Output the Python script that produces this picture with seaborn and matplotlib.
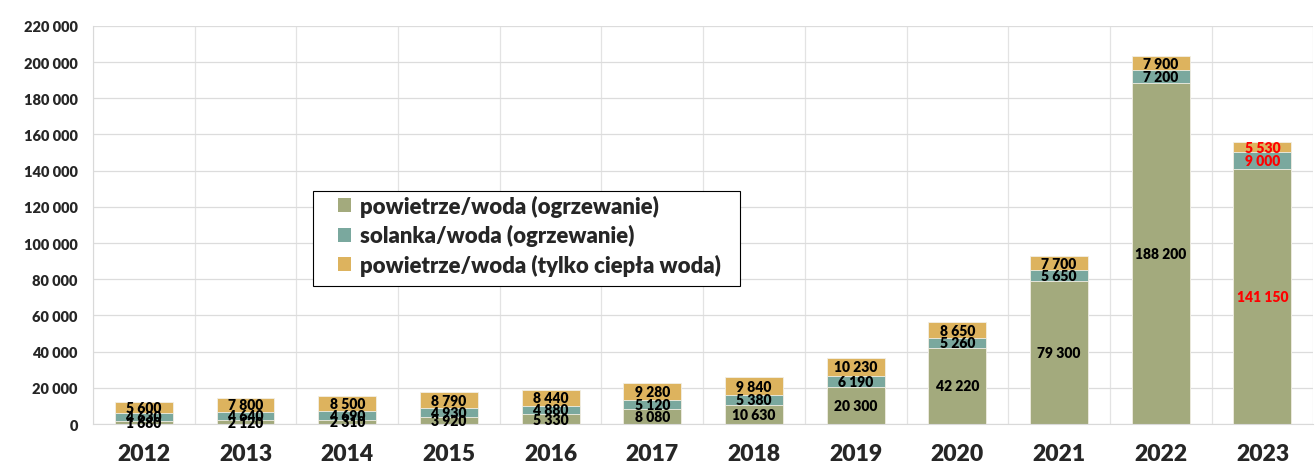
import numpy as np
import pandas as pd
import matplotlib
matplotlib.use('Agg')
import matplotlib.pyplot as plt
from matplotlib.ticker import FuncFormatter, FixedLocator
from matplotlib.patches import Patch, Rectangle
import seaborn as sns

years = ['2012', '2013', '2014', '2015', '2016', '2017', '2018', '2019',
         '2020', '2021', '2022', '2023']
air_heating = [1680, 2120, 2310, 3920, 5330, 8080, 10630, 20300, 42220, 79300, 188200, 141150]
brine_heating = [4630, 4640, 4690, 4930, 4880, 5120, 5380, 6190, 5260, 5650, 7200, 9000]
air_hot_water = [5600, 7800, 8500, 8790, 8440, 9280, 9840, 10230, 8650, 7700, 7900, 5530]

series_names = ['powietrze/woda (ogrzewanie)',
                'solanka/woda (ogrzewanie)',
                'powietrze/woda (tylko ciepła woda)']
COLORS = ['#A3AA7D', '#7AA89E', '#DDB35E']
WEIGHT = 'heavy'
W, H = 1315, 464

sns.set_style('white')
plt.rcParams['font.family'] = ['Lato', 'DejaVu Sans']

df = pd.DataFrame({'Rok': years, 'a': air_heating, 'b': brine_heating, 'c': air_hot_water})
df['ab'] = df['a'] + df['b']
df['abc'] = df['ab'] + df['c']

fig = plt.figure(figsize=(W / 100, H / 100), dpi=100)
ax = fig.add_axes([0.0707, 0.084, 0.928, 0.858])

# stacked bars: draw totals first, then overlay lower parts
for col, color in zip(['abc', 'ab', 'a'], COLORS[::-1]):
    sns.barplot(data=df, x='Rok', y=col, color=color, width=0.57,
                edgecolor='#F2EFE6', linewidth=0.6, ax=ax, saturation=1)

ax.set_xlim(-0.5, len(years) - 0.5)
ax.set_ylim(0, 220000)
ax.set_xlabel('')
ax.set_ylabel('')

ax.yaxis.set_major_locator(FixedLocator(np.arange(0, 220001, 20000)))
ax.yaxis.set_major_formatter(FuncFormatter(lambda v, p: f'{int(v):,}'.replace(',', ' ')))
ax.set_xticks(range(len(years)))
ax.set_xticks(np.arange(-0.5, len(years), 1), minor=True)
ax.grid(True, axis='y', which='major', color='#DCDCDC', lw=0.9)
ax.grid(True, axis='x', which='minor', color='#E3E3E3', lw=0.9)
ax.grid(False, axis='x', which='major')
ax.set_axisbelow(True)

for s in ['top', 'right']:
    ax.spines[s].set_visible(False)
ax.spines['left'].set_color('#D9D9D9')
ax.spines['bottom'].set_color('#D9D9D9')
ax.tick_params(axis='y', which='major', length=5, color='#D9D9D9', labelsize=10.5, pad=6)
ax.tick_params(axis='x', which='both', length=0, labelsize=16.5, pad=14)
for lbl in ax.get_yticklabels() + ax.get_xticklabels():
    lbl.set_fontweight(WEIGHT)

def fmt(v):
    return f'{v:,}'.replace(',', ' ')

for i, yr in enumerate(years):
    color = 'red' if yr == '2023' else 'black'
    a, b, c = air_heating[i], brine_heating[i], air_hot_water[i]
    for y, v in [(a / 2, a), (a + b / 2, b), (a + b + c / 2, c)]:
        ax.text(i, y, fmt(v), ha='center', va='center', fontsize=10,
                fontweight=WEIGHT, color=color)

# legend box drawn separately so the padding can match the reference
fig.add_artist(Rectangle((313 / W, 1 - 287 / H), (740 - 313) / W, 95 / H,
                         transform=fig.transFigure, facecolor='white',
                         edgecolor='black', lw=0.8, zorder=5))
handles = [Patch(facecolor=c, edgecolor='none') for c in COLORS]
leg = fig.legend(handles, series_names, loc='upper left',
                 bbox_to_anchor=(338 / W, 1 - 196 / H),
                 prop={'weight': WEIGHT, 'size': 15.9}, frameon=False,
                 handlelength=0.6, handleheight=0.6, handletextpad=0.4,
                 borderpad=0, labelspacing=0.33, borderaxespad=0)
leg.set_zorder(6)

fig.savefig('out.png', dpi=100)
plt.close()
